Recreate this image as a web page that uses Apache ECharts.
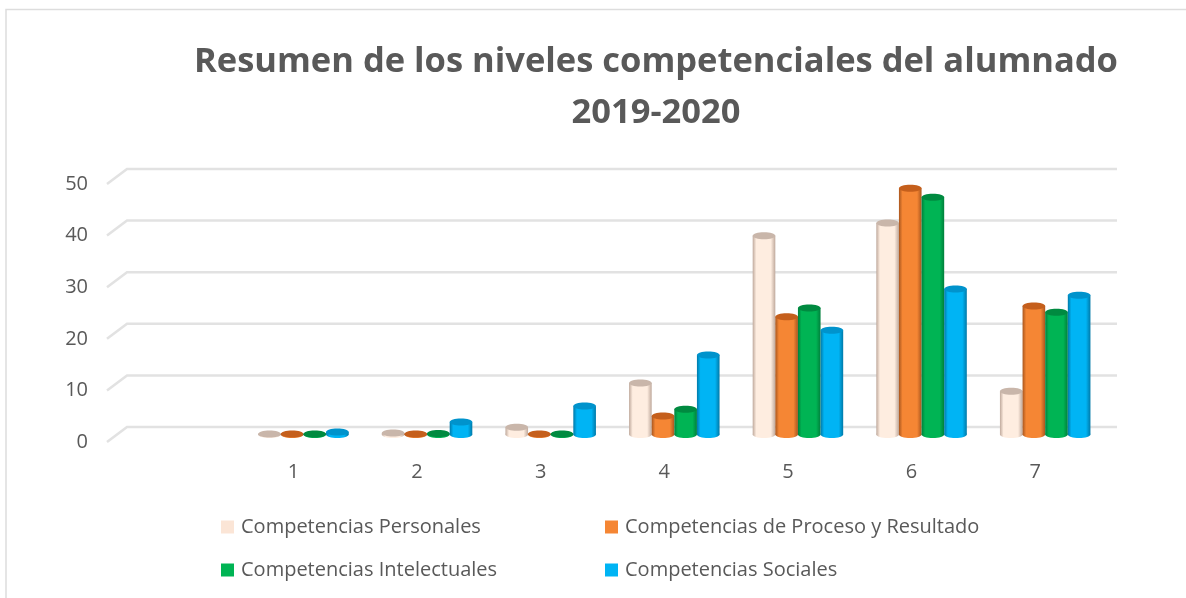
<!DOCTYPE html>
<html>
<head>
<meta charset="utf-8">
<style>
  html, body { margin: 0; padding: 0; background: #fff; }
  #chart { width: 1186px; height: 598px; }
</style>
<script src="https://cdn.jsdelivr.net/npm/echarts@6/dist/echarts.min.js"></script>
</head>
<body>
<div id="chart"></div>
<script>
// first category is left empty in the original chart
var categories = ["", "1", "2", "3", "4", "5", "6", "7"];
var yTicks = [0, 10, 20, 30, 40, 50];
var personales = [null, 0.1, 0.3, 1.4, 10, 38.5, 41, 8.4];
var proceso = [null, 0.1, 0.1, 0.1, 3.6, 22.8, 47.7, 24.9];
var intelectuales = [null, 0.1, 0.2, 0.1, 4.9, 24.5, 46, 23.7];
var sociales = [null, 0.5, 2.4, 5.5, 15.4, 20.2, 28.2, 27];

var textColor = "#595959";
var fontName = "Open Sans";

// body, edge, cap
var palette = [
  ["#FEEDE0", "#BFA99C", "#C9B6AA"],
  ["#F58634", "#A9561E", "#C55F1C"],
  ["#00B454", "#007F3B", "#008A40"],
  ["#00B4F4", "#0079A8", "#0093CC"]
];

function cylinder(seriesPos, colors) {
  return function (params, api) {
    var val = api.value(1);
    if (val == null || isNaN(val)) return;
    var catW = api.size([1, 0])[0];
    var w = catW * 0.183;
    var base = api.coord([api.value(0), 0]);
    var top = api.coord([api.value(0), val]);
    var x = base[0] + 10 + (seriesPos - 1.5) * w;
    var by = base[1] - 7.5;
    var ty = top[1] - 7.5;
    var rx = w / 2;
    var ry = 3.5;
    var grad = new echarts.graphic.LinearGradient(0, 0, 1, 0, [
      { offset: 0, color: colors[1] },
      { offset: 0.16, color: colors[0] },
      { offset: 0.8, color: colors[0] },
      { offset: 1, color: colors[1] }
    ]);
    return {
      type: "group",
      children: [
        { type: "ellipse", shape: { cx: x, cy: by, rx: rx, ry: ry }, style: { fill: grad } },
        { type: "rect", shape: { x: x - rx, y: ty, width: w, height: Math.max(by - ty, 0) }, style: { fill: grad } },
        { type: "ellipse", shape: { cx: x, cy: ty, rx: rx, ry: ry }, style: { fill: colors[2] } }
      ]
    };
  };
}

function wallLine(params, api) {
  var p = api.coord([0, api.value(0)]);
  var left = params.coordSys.x - 1;
  var right = params.coordSys.x + params.coordSys.width + 20;
  var y = p[1];
  return {
    type: "polyline",
    shape: { points: [[left, y], [left + 20, y - 15], [right, y - 15]] },
    style: { stroke: "#E2E2E2", lineWidth: 2.5, fill: null }
  };
}

function toPairs(arr) {
  return arr.map(function (v, i) { return [i, v]; });
}

var names = [
  "Competencias Personales",
  "Competencias de Proceso y Resultado",
  "Competencias Intelectuales",
  "Competencias Sociales"
];
var values = [personales, proceso, intelectuales, sociales];

var series = [{
  type: "custom",
  name: "walls",
  renderItem: wallLine,
  data: yTicks.map(function (t) { return [t]; }),
  encode: { y: 0 },
  silent: true,
  z: 1
}];
values.forEach(function (arr, i) {
  series.push({
    type: "custom",
    name: names[i],
    renderItem: cylinder(i, palette[i]),
    data: toPairs(arr),
    encode: { x: 0, y: 1 },
    itemStyle: { color: i == 0 ? "#FBE5D6" : palette[i][0] },
    z: 2
  });
});

var legendText = { color: textColor, fontFamily: fontName, fontSize: 20, padding: [0, 0, 0, 2] };

var myChart = echarts.init(document.getElementById("chart"));
myChart.setOption({
  animation: false,
  backgroundColor: "#fff",
  title: {
    text: "Resumen de los niveles competenciales del alumnado\n2019-2020",
    left: 651,
    top: 32,
    textAlign: "center",
    textStyle: {
      color: textColor,
      fontFamily: fontName,
      fontWeight: "bold",
      fontSize: 34.5,
      lineHeight: 51
    }
  },
  legend: [
    {
      data: [names[0], names[2]],
      orient: "vertical",
      left: 216,
      top: 512,
      itemWidth: 13,
      itemHeight: 13,
      itemGap: 23,
      icon: "rect",
      textStyle: legendText
    },
    {
      data: [names[1], names[3]],
      orient: "vertical",
      left: 600,
      top: 512,
      itemWidth: 13,
      itemHeight: 13,
      itemGap: 23,
      icon: "rect",
      textStyle: legendText
    }
  ],
  grid: { left: 108, right: 89, top: 184, bottom: 156 },
  xAxis: {
    type: "category",
    data: categories,
    axisLine: { show: false },
    axisTick: { show: false },
    axisLabel: { color: textColor, fontFamily: fontName, fontSize: 20, margin: 20 }
  },
  yAxis: {
    type: "value",
    min: 0,
    max: 50,
    interval: 10,
    splitLine: { show: false },
    axisLine: { show: false },
    axisTick: { show: false },
    axisLabel: { color: textColor, fontFamily: fontName, fontSize: 20, margin: 20 }
  },
  graphic: [{
    type: "polyline",
    shape: { points: [[6, 598], [6, 9.5], [1186, 9.5]] },
    style: { stroke: "#DDDDDD", lineWidth: 1.5, fill: null },
    silent: true
  }],
  series: series
});
</script>
</body>
</html>
